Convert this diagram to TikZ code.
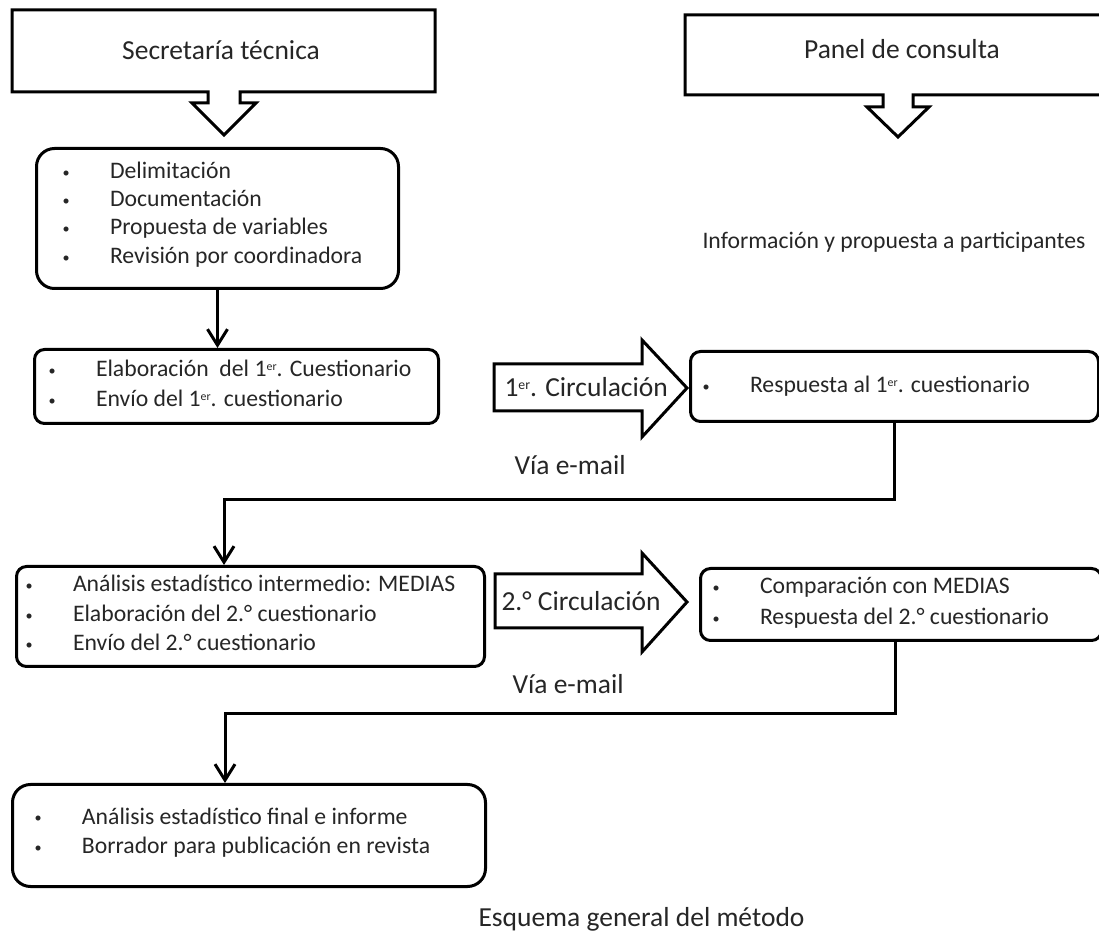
\documentclass[tikz,border=0pt]{standalone}
\usepackage{fontspec}
\setmainfont{Carlito}
\usetikzlibrary{arrows.meta}
\definecolor{txt}{RGB}{38,38,38}
\newcommand\itembul{\makebox[23.75pt][l]{\raisebox{0.9pt}{\scalebox{0.6}{•}}}}
\newcommand\supr[1]{\raisebox{0.55ex}{\fontsize{0.5em}{0.6em}\selectfont #1}}
\begin{document}
\begin{tikzpicture}[x=0.5pt,y=-0.5pt,
  line width=1.5pt,
  big/.style={font=\fontsize{13.75pt}{16pt}\selectfont, text=txt, inner sep=0pt},
  small/.style={font=\fontsize{11.85pt}{14pt}\selectfont, text=txt, inner sep=0pt},
  itm/.style={small, anchor=base west},
  rbox/.style={draw, rounded corners=5pt, anchor=north west, inner sep=0pt},
  conn/.style={-{Straight Barb[length=8pt,width=10pt]}},
  callout/.style={draw, line join=miter},
  blockarrow/.style={draw, line join=miter}
  ]
\path[use as bounding box] (0,0) rectangle (1099,935);
\clip (0,0) rectangle (1099,935);

% header callouts
\draw[callout] (12,10) -- (435,10) -- (435,92) -- (240,92) -- (240,103) -- (256,103) -- (224,135) -- (192,103) -- (208,103) -- (208,92) -- (12,92) -- cycle;
\node[big] (sec) at (221,50) {Secretaría técnica};
\draw[callout] (685,15) -- (1111,15) -- (1111,95) -- (913,95) -- (913,107) -- (929,107) -- (898,137) -- (867,107) -- (883,107) -- (883,95) -- (685,95) -- cycle;
\node[big] (pan) at (902,49) {Panel de consulta};

\node[small, anchor=base west] (info) at (701,249) {Información y propuesta a participantes};

% boxes
\node[rbox, rounded corners=9pt, minimum width=181pt, minimum height=70pt] (b1) at (35,147) {};
\node[itm] (b1a) at (61,179) {\itembul Delimitación};
\node[itm] (b1b) at (61,207) {\itembul Documentación};
\node[itm] (b1c) at (61,235) {\itembul Propuesta de variables};
\node[itm] (b1d) at (61,264) {\itembul Revisión por coordinadora};

\node[rbox, minimum width=202pt, minimum height=37pt] (b2) at (33,348) {};
\node[itm] (b2a) at (47,377) {\itembul Elaboración\ \ del 1\supr{er}. Cuestionario};
\node[itm] (b2b) at (47,407) {\itembul Envío del 1\supr{er}. cuestionario};

\node[rbox, minimum width=204pt, minimum height=35pt] (r1) at (689,350) {};
\node[itm] (r1a) at (701,393) {\itembul Respuesta al 1\supr{er}. cuestionario};

\node[rbox, minimum width=234pt, minimum height=50pt] (b3) at (15,565) {};
\node[itm] (b3a) at (24,592) {\itembul Análisis estadístico intermedio: MEDIAS};
\node[itm] (b3b) at (24,622) {\itembul Elaboración del 2.° cuestionario};
\node[itm] (b3c) at (24,651) {\itembul Envío del 2.° cuestionario};

\node[rbox, minimum width=200.5pt, minimum height=36pt] (r2) at (699,567) {};
\node[itm] (r2a) at (711,594) {\itembul Comparación con MEDIAS};
\node[itm] (r2b) at (711,625) {\itembul Respuesta del 2.° cuestionario};

\node[rbox, rounded corners=9pt, minimum width=236.5pt, minimum height=51pt] (b5) at (11,783) {};
\node[itm] (b5a) at (33,824) {\itembul Análisis estadístico final e informe};
\node[itm] (b5b) at (33,854) {\itembul Borrador para publicación en revista};

% block arrows
\draw[blockarrow] (494,364) -- (642,364) -- (642,340) -- (687,388) -- (642,437) -- (642,411) -- (494,411) -- cycle;
\node[big, anchor=base west] (circ1) at (503,397) {1\supr{er}. Circulación};
\draw[blockarrow] (495,574) -- (642,574) -- (642,553) -- (687,602) -- (642,652) -- (642,628) -- (495,628) -- cycle;
\node[big, anchor=base west] (circ2) at (500,611) {2.° Circulación};

\node[big, anchor=base west] (via1) at (513,475) {Vía e-mail};
\node[big, anchor=base west] (via2) at (511,694) {Vía e-mail};
\node[big, anchor=base west] (esq) at (477,926) {Esquema general del método};

% connectors
\draw[conn] (b1.south) -- (b1.south |- b2.north);
\coordinate (k1) at (224,500);
\draw[conn] (r1.south) |- (k1) -- (k1 |- b3.north);
\coordinate (k2) at (225,714);
\draw[conn] ([xshift=-2.75pt]r2.south) |- (k2) -- (k2 |- b5.north);
\end{tikzpicture}
\end{document}
